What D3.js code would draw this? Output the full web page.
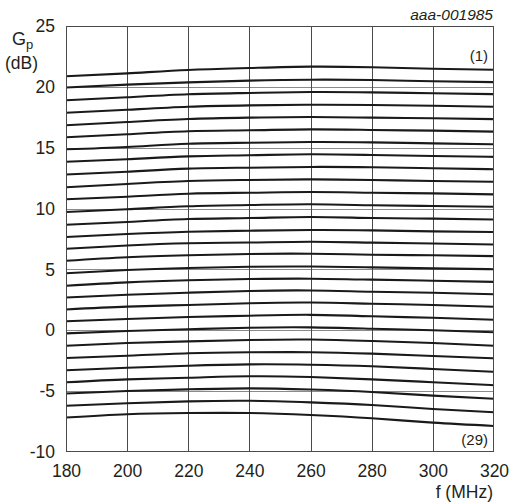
<!DOCTYPE html>
<html><head><meta charset="utf-8">
<script src="https://cdn.jsdelivr.net/npm/d3@7"></script>
<style>body{margin:0;background:#fff}text{font-family:"Liberation Sans",Arial,sans-serif;fill:#231f20}</style>
</head><body><svg id="c" width="510" height="503"></svg>
<script>
const freqs=[180,200,220,240,260,280,300,320];
const xTicks=[180,200,220,240,260,280,300,320];
const yTicks=[-10,-5,0,5,10,15,20,25];
const g1=[20.87,21.11,21.39,21.55,21.66,21.61,21.49,21.40];
const g2=[19.95,20.18,20.37,20.51,20.59,20.56,20.46,20.39];
const g3=[18.90,19.14,19.39,19.50,19.58,19.55,19.47,19.40];
const g4=[17.87,18.12,18.37,18.48,18.53,18.51,18.45,18.37];
const g5=[16.84,17.11,17.36,17.47,17.52,17.47,17.42,17.35];
const g6=[15.86,16.10,16.35,16.43,16.51,16.46,16.40,16.32];
const g7=[14.87,15.06,15.33,15.41,15.47,15.44,15.36,15.28];
const g8=[13.84,14.05,14.29,14.38,14.46,14.40,14.32,14.25];
const g9=[12.80,13.03,13.28,13.36,13.42,13.39,13.31,13.23];
const g10=[11.75,12.02,12.26,12.35,12.40,12.35,12.26,12.20];
const g11=[10.76,10.97,11.22,11.30,11.36,11.30,11.25,11.17];
const g12=[9.72,9.94,10.19,10.29,10.35,10.27,10.21,10.15];
const g13=[8.67,8.90,9.14,9.22,9.31,9.22,9.17,9.10];
const g14=[7.66,7.91,8.10,8.18,8.24,8.21,8.13,8.08];
const g15=[6.70,6.97,7.15,7.21,7.28,7.20,7.13,7.05];
const g16=[5.71,6.00,6.16,6.27,6.29,6.21,6.16,6.09];
const g17=[4.68,4.95,5.12,5.22,5.24,5.17,5.09,5.02];
const g18=[3.66,3.94,4.11,4.21,4.24,4.16,4.07,3.98];
const g19=[2.69,2.92,3.09,3.23,3.27,3.17,3.09,2.96];
const g20=[1.71,1.94,2.08,2.22,2.28,2.18,2.08,1.93];
const g21=[0.74,0.93,1.09,1.20,1.27,1.15,1.03,0.87];
const g22=[-0.25,-0.06,0.08,0.21,0.24,0.13,0.00,-0.16];
const g23=[-1.27,-1.05,-0.91,-0.80,-0.76,-0.88,-1.05,-1.27];
const g24=[-2.28,-2.09,-1.89,-1.81,-1.80,-1.92,-2.11,-2.30];
const g25=[-3.28,-3.08,-2.91,-2.80,-2.83,-2.96,-3.18,-3.41];
const g26=[-4.27,-4.03,-3.90,-3.78,-3.84,-4.03,-4.27,-4.51];
const g27=[-5.20,-4.99,-4.85,-4.77,-4.87,-5.07,-5.37,-5.62];
const g28=[-6.20,-6.00,-5.84,-5.79,-5.92,-6.14,-6.47,-6.74];
const g29=[-7.17,-6.90,-6.80,-6.80,-6.96,-7.23,-7.59,-7.86];
const curves=[g1,g2,g3,g4,g5,g6,g7,g8,g9,g10,g11,g12,g13,g14,g15,g16,g17,g18,g19,g20,g21,g22,g23,g24,g25,g26,g27,g28,g29];

const L=66,R=494,T=26,B=452;
const svg=d3.select("#c");
const x=d3.scaleLinear().domain([180,320]).range([L,R]);
const y=d3.scaleLinear().domain([-10,25]).range([B,T]);

svg.append("g").selectAll("line").data(yTicks.slice(1,-1)).join("line")
  .attr("x1",L).attr("x2",R).attr("y1",d=>Math.round(y(d))+0.5).attr("y2",d=>Math.round(y(d))+0.5)
  .attr("stroke","#8a8a8a").attr("stroke-width",1);
svg.append("g").selectAll("line").data(xTicks.slice(1,-1)).join("line")
  .attr("y1",T).attr("y2",B).attr("x1",d=>Math.round(x(d))+0.5).attr("x2",d=>Math.round(x(d))+0.5)
  .attr("stroke","#4a4a4a").attr("stroke-width",1);

svg.append("defs").append("clipPath").attr("id","clip").append("rect")
  .attr("x",L).attr("y",T).attr("width",R-L).attr("height",B-T);

const line=d3.line().x((d,i)=>x(freqs[i])).y(d=>y(d)).curve(d3.curveNatural);
svg.append("g").attr("clip-path","url(#clip)").selectAll("path").data(curves).join("path")
  .attr("d",line).attr("fill","none").attr("stroke","#1a1a1a").attr("stroke-width",2.1);

svg.append("rect").attr("x",L+0.5).attr("y",T+0.5).attr("width",R-L-1).attr("height",B-T-1)
  .attr("fill","none").attr("stroke","#4a4a4a").attr("stroke-width",1);

const fmt=d=>String(d);
const yAxis=svg.append("g").attr("transform",`translate(${L},0)`)
  .call(d3.axisLeft(y).tickValues(yTicks).tickSize(0).tickPadding(11).tickFormat(fmt));
yAxis.select(".domain").remove();
yAxis.selectAll("text").attr("font-size",17.5).attr("font-family","Liberation Sans, Arial, sans-serif").attr("fill","#231f20");

const xAxis=svg.append("g").attr("transform",`translate(0,${B})`)
  .call(d3.axisBottom(x).tickValues(xTicks).tickSize(0).tickPadding(13).tickFormat(fmt));
xAxis.select(".domain").remove();
xAxis.selectAll("text").attr("font-size",17.5).attr("font-family","Liberation Sans, Arial, sans-serif").attr("fill","#231f20");

const gp=svg.append("text").attr("x",12).attr("y",45).attr("font-size",18);
gp.append("tspan").text("G");
gp.append("tspan").attr("font-size",13).attr("dy",4).text("p");
svg.append("text").attr("x",5).attr("y",69).attr("font-size",17.5).text("(dB)");
svg.append("text").attr("x",493).attr("y",498).attr("text-anchor","end").attr("font-size",17.5).text("f (MHz)");
svg.append("text").attr("x",493).attr("y",20).attr("text-anchor","end").attr("font-size",15.5).attr("font-style","italic").text("aaa-001985");
svg.append("text").attr("x",488).attr("y",61).attr("text-anchor","end").attr("font-size",15).text("(1)");
svg.append("text").attr("x",488).attr("y",445).attr("text-anchor","end").attr("font-size",15).text("(29)");
</script></body></html>
